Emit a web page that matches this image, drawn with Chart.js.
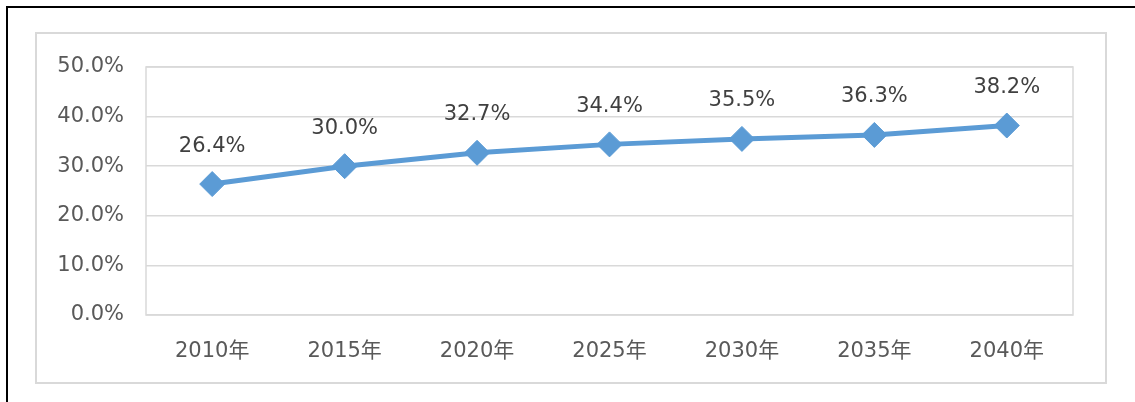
<!DOCTYPE html>
<html>
<head>
<meta charset="utf-8">
<script src="https://cdn.jsdelivr.net/npm/chart.js@4/dist/chart.umd.min.js"></script>
<style>
  html, body { margin: 0; padding: 0; background: #fff; }
  #wrap { position: relative; width: 1135px; height: 402px; overflow: hidden; }
  #frame { position: absolute; left: 6px; top: 6px; width: 1140px; height: 410px;
           border-top: 2px solid #000; border-left: 2px solid #000; }
  #box { position: absolute; left: 35px; top: 32px; width: 1068px; height: 348px;
         border: 2px solid #d9d9d9; }
  canvas { position: absolute; left: 0; top: 0; }
</style>
</head>
<body>
<div id="wrap">
  <div id="frame"></div>
  <div id="box"></div>
  <canvas id="chart" width="1135" height="402"></canvas>
</div>
<script>
const years = ['2010年', '2015年', '2020年', '2025年', '2030年', '2035年', '2040年'];
const ratios = [26.4, 30.0, 32.7, 34.4, 35.5, 36.3, 38.2];
const yTicks = [0, 10, 20, 30, 40, 50];

const FONT = "'DejaVu Sans', Verdana, 'Noto Sans CJK JP', sans-serif";

// plot frame around the chart area
const plotFrame = {
    id: 'plotFrame',
    beforeDatasetsDraw(chart) {
        const a = chart.chartArea;
        const c = chart.ctx;
        c.save();
        c.strokeStyle = '#d9d9d9';
        c.lineWidth = 1.5;
        c.strokeRect(a.left, a.top, a.right - a.left, a.bottom - a.top);
        c.restore();
    }
};

// value labels above each point
const valueLabels = {
    id: 'valueLabels',
    afterDatasetsDraw(chart) {
        const c = chart.ctx;
        const meta = chart.getDatasetMeta(0);
        c.save();
        c.font = '21px ' + FONT;
        c.fillStyle = '#404040';
        c.textAlign = 'center';
        c.textBaseline = 'middle';
        meta.data.forEach((pt, i) => {
            c.fillText(ratios[i].toFixed(1) + '%', pt.x, pt.y - 38);
        });
        c.restore();
    }
};

new Chart(document.getElementById('chart').getContext('2d'), {
    type: 'line',
    data: {
        labels: years,
        datasets: [{
            data: ratios,
            borderColor: '#5b9bd5',
            backgroundColor: '#5b9bd5',
            borderWidth: 5,
            tension: 0,
            pointStyle: 'rectRot',
            pointRadius: 12.5,
            pointHoverRadius: 12.5,
            pointBorderWidth: 1,
            pointBorderColor: '#5b9bd5',
            pointBackgroundColor: '#5b9bd5'
        }]
    },
    options: {
        responsive: false,
        animation: false,
        events: [],
        layout: { padding: { left: 56, right: 62, top: 67, bottom: 0 } },
        plugins: {
            legend: { display: false },
            tooltip: { enabled: false }
        },
        scales: {
            x: {
                offset: true,
                grid: { display: false },
                border: { display: false },
                ticks: { color: '#595959', font: { family: FONT, size: 21 }, padding: 16, maxRotation: 0 },
                afterFit: (scale) => { scale.height = 87; }
            },
            y: {
                min: 0,
                max: 50,
                afterBuildTicks: (scale) => { scale.ticks = yTicks.map(v => ({ value: v })); },
                grid: { color: '#d9d9d9', lineWidth: 1.5, drawTicks: false },
                border: { display: false },
                ticks: {
                    color: '#595959',
                    font: { family: FONT, size: 21 },
                    padding: 22,
                    callback: (v) => v.toFixed(1) + '%'
                },
                afterFit: (scale) => { scale.width = 90; }
            }
        }
    },
    plugins: [plotFrame, valueLabels]
});
</script>
</body>
</html>
